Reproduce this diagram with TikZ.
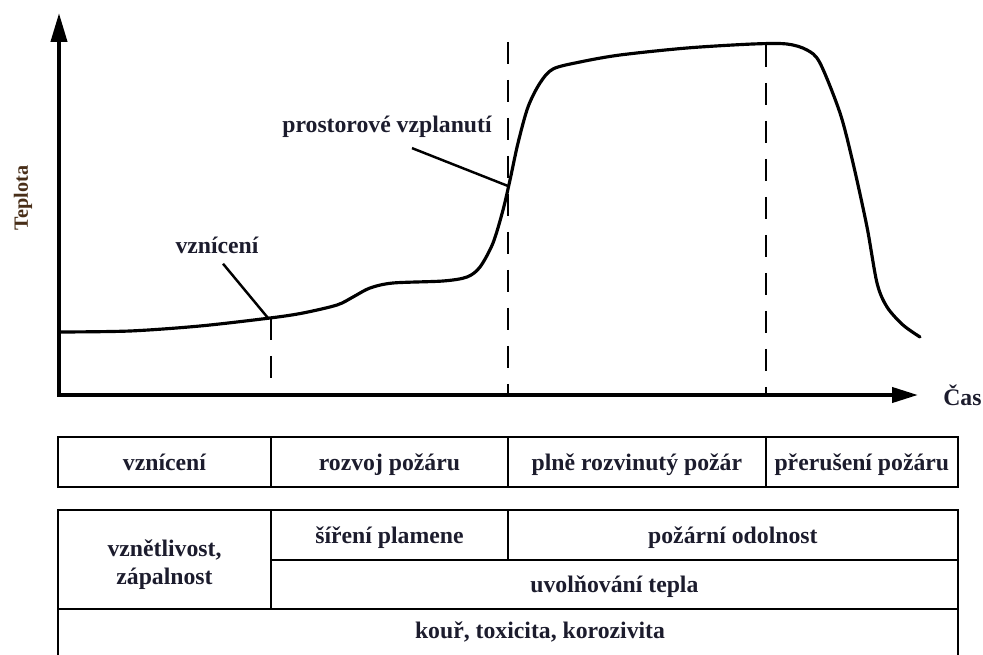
\documentclass[tikz,border=0pt]{standalone}
\usepackage{fontspec}
\setmainfont{Liberation Serif}
\usetikzlibrary{arrows.meta,positioning,calc}
\definecolor{txtcol}{RGB}{28,28,45}
\definecolor{axlabcol}{RGB}{72,46,24}
\tikzset{
    cellbox/.style={draw, line width=1.5pt, inner sep=0pt, outer sep=0pt, align=center,
        font=\fontsize{13.5}{16}\selectfont\bfseries, text=txtcol, minimum height=1cm},
    onerow/.style={text height=2.4ex, text depth=0.3ex},
    cellline/.style={line width=1.5pt},
    graphlabel/.style={inner sep=0pt, font=\fontsize{13.5}{16}\selectfont\bfseries, text=txtcol},
    axisarrows/.style={{Triangle[length=0.58cm,width=0.32cm]}-{Triangle[length=0.52cm,width=0.3cm]},
        line width=2.3pt, line join=miter},
    firecurve/.style={line width=1.8pt, line cap=round, line join=round},
    phaseline/.style={line width=1.2pt, dash pattern=on 0.44cm off 0.32cm},
    leaderline/.style={line width=1.4pt}
}

\begin{document}
\begin{tikzpicture}[x=0.02cm, y=-0.02cm, node distance=0pt]
\useasboundingbox (0,0) rectangle (983,655);

% axes
\coordinate (O) at (59,395);
\coordinate (ytip) at (59,13);
\coordinate (xtip) at (918,395);
\draw[axisarrows] (ytip) -- (O) -- (xtip);
\node[graphlabel, text=axlabcol, font=\fontsize{11.5}{14}\selectfont\bfseries, rotate=90] (teplota) at (23,198) {Teplota};
\node[graphlabel, right=0.5cm of xtip] (cas) {Čas};

% temperature curve
\draw[firecurve] plot[smooth, tension=0.5] coordinates {
    (60,332) (130,331) (200,326) (270,318) (303,313) (337,305) (353,297)
    (370,288) (393,283) (443,281) (467,277) (480,267) (493,243) (503,210)
    (510,180) (518,143) (528,107) (540,83) (553,69) (580,62) (620,55)
    (687,48) (753,44) (787,44) (807,50) (820,63) (840,113) (853,163)
    (867,227) (877,283) (887,307) (903,325) (920,337)};

% phase boundaries
\coordinate (ignpt) at (271,318);
\coordinate (flashtop) at (508,42);
\coordinate (decaytop) at (766,45);
\draw[phaseline] (ignpt) -- (ignpt |- O);
\draw[phaseline] (flashtop) -- (flashtop |- O);
\draw[phaseline] (decaytop) -- (decaytop |- O);

% labels on the curve
\node[graphlabel] (vzn) at (217,245) {vznícení};
\coordinate (vznpt) at (268,318);
\draw[leaderline] ([xshift=0.12cm,yshift=-0.2cm]vzn.south) -- (vznpt);
\node[graphlabel] (prost) at (387,127) {prostorové vzplanutí};
\coordinate (flashpt) at (508,186);
\draw[leaderline] ([xshift=0.5cm,yshift=-0.2cm]prost.south) -- (flashpt);

% phases
\node[cellbox, onerow, anchor=north west, minimum width=4.26cm] (fvzn) at (58,437) {vznícení};
\node[cellbox, onerow, right=of fvzn, minimum width=4.74cm] (rozvoj) {rozvoj požáru};
\node[cellbox, onerow, right=of rozvoj, minimum width=5.16cm] (plne) {plně rozvinutý požár};
\node[cellbox, onerow, right=of plne, minimum width=3.84cm] (preruseni) {přerušení požáru};

% properties
\node[cellbox, anchor=north west, minimum width=4.26cm, minimum height=1.98cm] (vznetl) at (58,510) {\rule{0pt}{0.53cm}vznětlivost,\\zápalnost};
\node[cellbox, onerow, anchor=north west, minimum width=4.74cm] (sireni) at (vznetl.north east) {šíření plamene};
\node[cellbox, onerow, right=of sireni, minimum width=9cm] (odolnost) {požární odolnost};
\node[cellbox, onerow, anchor=north west, minimum width=13.74cm, minimum height=0.98cm] (teplo) at (sireni.south west) {uvolňování tepla};
\node[graphlabel, onerow] (kour) at (540,630) {kouř, toxicita, korozivita};
\draw[cellline] (vznetl.south west) -- ++(0,46);
\draw[cellline] (teplo.south east) -- ++(0,46);
\end{tikzpicture}
\end{document}
